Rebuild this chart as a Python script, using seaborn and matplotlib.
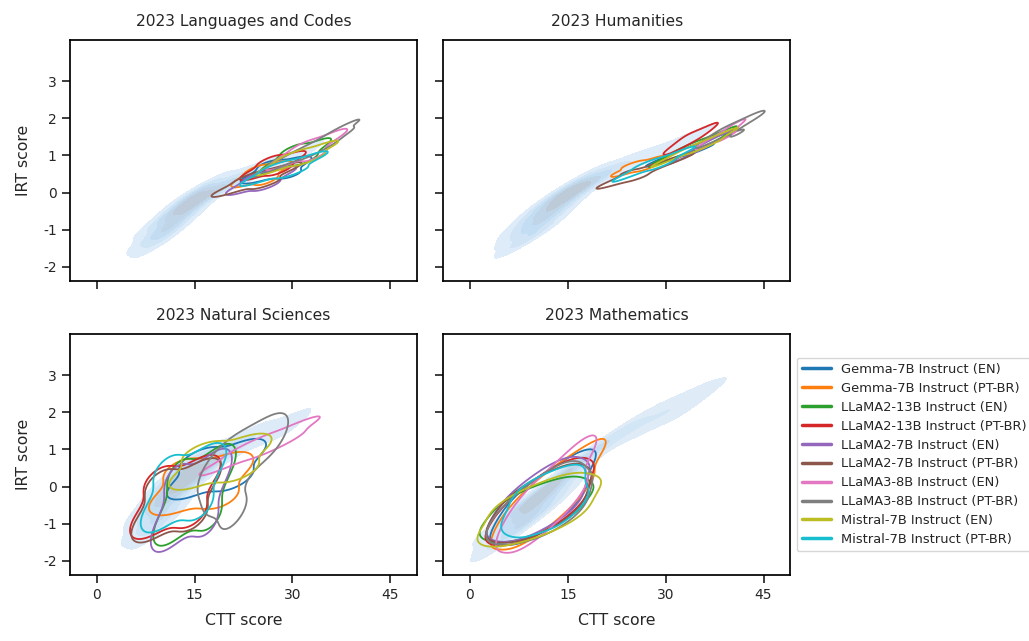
import matplotlib
matplotlib.use("Agg")
import matplotlib.pyplot as plt
from matplotlib.colors import LinearSegmentedColormap
from matplotlib.lines import Line2D
import pandas as pd
import seaborn as sns

MODELS = [
    "Gemma-7B Instruct (EN)",
    "Gemma-7B Instruct (PT-BR)",
    "LLaMA2-13B Instruct (EN)",
    "LLaMA2-13B Instruct (PT-BR)",
    "LLaMA2-7B Instruct (EN)",
    "LLaMA2-7B Instruct (PT-BR)",
    "LLaMA3-8B Instruct (EN)",
    "LLaMA3-8B Instruct (PT-BR)",
    "Mistral-7B Instruct (EN)",
    "Mistral-7B Instruct (PT-BR)",
]
TITLES = ["2023 Languages and Codes", "2023 Humanities",
          "2023 Natural Sciences", "2023 Mathematics"]
X_TICKS = [0, 15, 30, 45]
Y_TICKS = [-2, -1, 0, 1, 2, 3]

# ---- Languages and Codes -------------------------------------------------
LC_HUMAN_CTT = [8.5, 9, 9.5, 10, 10.5, 11, 11.5, 12, 12.5, 13, 13.5, 14, 14,
                15, 15, 15, 16, 16, 17, 17, 18, 19, 20, 21.5, 23, 25, 28, 32,
                9.25, 10.25, 11.25, 12.25, 13.25, 14.5, 16]
LC_HUMAN_IRT = [-1.25, -1.4, -0.85, -1.2, -0.7, -1.05, -0.55, -0.9, -0.4,
                -0.7, -0.25, -0.55, -0.1, -0.35, -0.05, -0.2, -0.25, 0.05,
                -0.1, 0.15, 0.1, 0.15, 0.25, 0.35, 0.45, 0.6, 0.8, 1.1,
                -1.1, -0.95, -0.8, -0.65, -0.45, -0.25, -0.1]
LC_CTT = {
    MODELS[0]: [24, 26, 27.5, 29, 31, 26.5, 29.5],
    MODELS[1]: [22.5, 24, 25, 26.5, 28, 24.5, 26],
    MODELS[2]: [27, 29, 30.5, 32, 34, 30, 32],
    MODELS[3]: [24, 25.5, 27, 28.5, 30, 26.5, 28],
    MODELS[4]: [22, 23.5, 25, 26.5, 28.5, 24.5, 26],
    MODELS[5]: [20, 22.5, 24.5, 26.5, 29, 23.5, 26],
    MODELS[6]: [28, 30, 32, 34, 36.5, 31.5, 33.5],
    MODELS[7]: [27, 29.5, 32, 34.5, 36, 37.5, 31, 34],
    MODELS[8]: [27, 29, 30.5, 32.5, 34.5, 30, 32.5],
    MODELS[9]: [24.5, 26.5, 28.5, 30.5, 33, 27.5, 30],
}
LC_IRT = {
    MODELS[0]: [0.38, 0.5, 0.6, 0.7, 0.85, 0.75, 0.5],
    MODELS[1]: [0.3, 0.4, 0.5, 0.6, 0.7, 0.6, 0.35],
    MODELS[2]: [0.7, 0.85, 1.0, 1.1, 1.3, 1.15, 0.9],
    MODELS[3]: [0.5, 0.6, 0.7, 0.85, 0.95, 0.85, 0.62],
    MODELS[4]: [0.1, 0.2, 0.3, 0.4, 0.55, 0.42, 0.2],
    MODELS[5]: [0.05, 0.2, 0.35, 0.5, 0.65, 0.42, 0.25],
    MODELS[6]: [0.8, 0.95, 1.1, 1.3, 1.55, 1.25, 1.0],
    MODELS[7]: [0.7, 0.9, 1.1, 1.3, 1.45, 1.72, 1.1, 1.15],
    MODELS[8]: [0.65, 0.8, 0.92, 1.05, 1.22, 1.0, 0.9],
    MODELS[9]: [0.35, 0.5, 0.62, 0.75, 0.95, 0.7, 0.55],
}

# ---- Humanities ----------------------------------------------------------
HU_HUMAN_CTT = [8, 8.5, 9, 9.5, 10, 10.5, 11, 11.5, 12, 12.5, 13, 13.5, 14,
                14.5, 15, 15.5, 16, 16.5, 17, 17.5, 18, 19, 20, 22, 24, 27,
                31, 35, 8.25, 9.25, 10.25, 11.25, 12.25, 13.25, 14.25, 15.25,
                16.25]
HU_HUMAN_IRT = [-1.3, -0.85, -1.2, -0.7, -1.1, -0.5, -0.9, -0.35, -0.7,
                -0.2, -0.55, -0.05, -0.4, 0.05, -0.2, 0.15, -0.05, 0.25, 0.05,
                0.3, 0.2, 0.35, 0.45, 0.6, 0.75, 0.95, 1.25, 1.55, -1.05,
                -0.95, -0.8, -0.6, -0.45, -0.3, -0.15, 0.0, 0.1]
HU_CTT = {
    MODELS[0]: [29.5, 31.5, 33.5, 35.5, 37.5, 33, 35],
    MODELS[1]: [23.5, 24.5, 25.5, 26.5, 27.5, 28.5, 25, 27],
    MODELS[2]: [30, 32, 34, 36, 38.5, 33.5, 36],
    MODELS[3]: [30, 32, 34, 36, 38.5, 33, 36.5],
    MODELS[4]: [33, 34.5, 36, 37.5, 38.5, 35.5, 36.5],
    MODELS[5]: [21.5, 23.5, 25.5, 27.5, 30, 32.5, 26, 24],
    MODELS[6]: [36.5, 38, 39.5, 40.5, 38.5, 37, 39.5],
    MODELS[7]: [36, 38, 40, 42, 43.5, 39, 41],
    MODELS[8]: [30.5, 32.5, 34.5, 36.5, 38.5, 34, 36],
    MODELS[9]: [24, 26, 28, 30, 32.5, 27, 29.5],
}
HU_IRT = {
    MODELS[0]: [0.88, 1.0, 1.12, 1.28, 1.45, 1.15, 1.15],
    MODELS[1]: [0.55, 0.6, 0.68, 0.75, 0.82, 0.88, 0.75, 0.68],
    MODELS[2]: [0.9, 1.05, 1.2, 1.35, 1.6, 1.25, 1.3],
    MODELS[3]: [1.05, 1.25, 1.45, 1.65, 1.95, 1.55, 1.4],
    MODELS[4]: [1.0, 1.12, 1.25, 1.38, 1.5, 1.2, 1.35],
    MODELS[5]: [0.25, 0.35, 0.5, 0.65, 0.8, 0.95, 0.4, 0.55],
    MODELS[6]: [1.35, 1.5, 1.65, 1.8, 1.55, 1.4, 1.55],
    MODELS[7]: [1.35, 1.5, 1.7, 1.9, 2.05, 1.7, 1.6],
    MODELS[8]: [0.9, 1.05, 1.2, 1.35, 1.55, 1.22, 1.25],
    MODELS[9]: [0.45, 0.6, 0.75, 0.9, 1.1, 0.78, 0.75],
}

# ---- Natural Sciences ----------------------------------------------------
NS_HUMAN_CTT = [7.5, 8, 8.5, 9, 9.5, 10, 10.5, 11, 11.5, 12, 12.5, 13, 13.5,
                14, 14.5, 15, 15.5, 16, 16.5, 17, 18, 19, 20.5, 22, 24, 27, 30,
                8, 9, 10, 11, 12, 13, 14, 15]
NS_HUMAN_IRT = [-1.1, -0.6, -1.25, -0.4, -0.95, -0.15, -0.8, 0.1, -0.5, 0.3,
                -0.2, 0.45, 0.0, 0.55, 0.15, 0.6, 0.25, 0.7, 0.4, 0.6, 0.75,
                0.85, 1.0, 1.15, 1.3, 1.5, 1.7, -0.9, -0.65, -0.45, -0.2,
                0.05, 0.2, 0.3, 0.45]
NS_CTT = {
    MODELS[0]: [14.1, 16.2, 18.35, 20.5, 22.6, 15.9, 20.8],
    MODELS[1]: [11.2, 13.6, 16, 18.4, 20.8, 13.2, 18.8],
    MODELS[2]: [10.8, 12.9, 15, 17.1, 19.2, 12.6, 17.4],
    MODELS[3]: [7.7, 9.9, 12.05, 14.2, 16.4, 9.55, 14.55],
    MODELS[4]: [10.4, 12.4, 14.5, 16.6, 18.6, 12.1, 16.9],
    MODELS[5]: [7.9, 10.05, 12.2, 14.35, 16.5, 9.75, 14.65],
    MODELS[6]: [20.5, 22.5, 25, 27.5, 29.5, 24, 27],
    MODELS[7]: [18, 20, 22.5, 25, 27, 19, 21, 20.5],
    MODELS[8]: [14.6, 16.8, 18.95, 21.1, 23.3, 16.4, 21.5],
    MODELS[9]: [9.2, 11.2, 13.3, 15.4, 17.4, 10.9, 15.7],
}
NS_IRT = {
    MODELS[0]: [0.01, 0.24, 0.47, 0.7, 0.93, 0.72, 0.22],
    MODELS[1]: [-0.42, -0.17, 0.08, 0.33, 0.58, 0.44, -0.28],
    MODELS[2]: [-1.12, -0.67, -0.22, 0.23, 0.68, 0.36, -0.8],
    MODELS[3]: [-0.98, -0.63, -0.28, 0.07, 0.42, 0.17, -0.73],
    MODELS[4]: [-1.28, -0.83, -0.37, 0.09, 0.54, 0.22, -0.96],
    MODELS[5]: [-1.07, -0.72, -0.37, -0.02, 0.33, 0.08, -0.82],
    MODELS[6]: [0.7, 0.85, 1.05, 1.25, 1.5, 1.12, 1.1],
    MODELS[7]: [0.4, 0.7, 0.95, 1.2, 1.35, -0.2, -0.7, 0.3],
    MODELS[8]: [0.25, 0.45, 0.67, 0.89, 1.09, 0.9, 0.44],
    MODELS[9]: [-0.78, -0.4, -0.03, 0.34, 0.72, 0.45, -0.51],
}

# ---- Mathematics ---------------------------------------------------------
MA_HUMAN_CTT = [6.5, 6.5, 7, 7.5, 8, 8.5, 9, 9.5, 10, 10.5, 11, 11.5, 12,
                12.5, 13, 14, 15, 16, 18, 20, 22.5, 25, 27.5, 30, 32.5, 35,
                7, 7.5, 8.5, 9.5, 10.5, 11.5, 12.5]
MA_HUMAN_IRT = [-1.15, -0.8, -1.2, -0.6, -1.05, -0.45, -0.95, -0.35, -0.75,
                -0.2, -0.55, -0.05, -0.35, 0.1, 0.0, 0.25, 0.4, 0.55, 0.85,
                1.1, 1.35, 1.6, 1.8, 2.0, 2.2, 2.35, -1.0, -0.85, -0.7,
                -0.55, -0.4, -0.25, -0.1]
MA_CTT = {
    MODELS[0]: [6, 8, 11, 14.5, 16, 15, 12, 9],
    MODELS[1]: [6.5, 8, 11, 14, 18, 16, 12.5, 9],
    MODELS[2]: [5, 7, 10, 13.5, 15.5, 13.5, 10, 7],
    MODELS[3]: [5.5, 7.5, 10.5, 14, 16, 15, 11.5, 8],
    MODELS[4]: [5.5, 7.5, 10.5, 13.5, 15.5, 14.5, 11, 8],
    MODELS[5]: [5.5, 7.5, 10.5, 14, 15.5, 14.5, 11, 8],
    MODELS[6]: [7, 8.5, 11, 14.5, 16.5, 15.5, 12, 9],
    MODELS[7]: [5.5, 7.5, 11, 14, 16, 15, 11.5, 8],
    MODELS[8]: [4.5, 6.5, 10, 14, 17, 15, 11, 7],
    MODELS[9]: [7.5, 9, 12, 15, 15.5, 13, 9.5, 11.5],
}
MA_IRT = {
    MODELS[0]: [-1.05, -0.45, -0.05, 0.3, 0.45, -0.3, -0.75, -1.05],
    MODELS[1]: [-1.1, -0.55, -0.1, 0.3, 0.8, -0.1, -0.7, -1.1],
    MODELS[2]: [-1.0, -0.55, -0.3, -0.1, -0.25, -0.7, -1.0, -1.1],
    MODELS[3]: [-1.05, -0.55, -0.1, 0.3, 0.2, -0.45, -0.85, -1.1],
    MODELS[4]: [-0.95, -0.4, 0.0, 0.35, 0.2, -0.45, -0.8, -1.0],
    MODELS[5]: [-1.0, -0.45, -0.1, 0.2, 0.0, -0.55, -0.9, -1.05],
    MODELS[6]: [-1.1, -0.55, -0.1, 0.4, 0.8, -0.2, -0.8, -1.15],
    MODELS[7]: [-1.05, -0.55, -0.1, 0.3, 0.0, -0.6, -0.95, -1.1],
    MODELS[8]: [-1.15, -0.55, -0.3, 0.0, -0.1, -0.7, -1.0, -1.2],
    MODELS[9]: [-0.85, -0.25, 0.0, 0.2, -0.35, -0.75, -0.95, -0.45],
}

PANELS = [
    (LC_HUMAN_CTT, LC_HUMAN_IRT, LC_CTT, LC_IRT),
    (HU_HUMAN_CTT, HU_HUMAN_IRT, HU_CTT, HU_IRT),
    (NS_HUMAN_CTT, NS_HUMAN_IRT, NS_CTT, NS_IRT),
    (MA_HUMAN_CTT, MA_HUMAN_IRT, MA_CTT, MA_IRT),
]

sns.set_theme(style="ticks")
plt.rcParams.update({
    "font.family": ["DejaVu Sans"],
    "axes.unicode_minus": False,
    "axes.linewidth": 1.25,
    "axes.edgecolor": "black",
    "xtick.major.size": 6,
    "ytick.major.size": 6,
    "xtick.major.width": 1.25,
    "ytick.major.width": 1.25,
    "xtick.labelsize": 10,
    "ytick.labelsize": 10,
    "axes.labelsize": 11.3,
    "axes.titlesize": 11.2,
})

palette = sns.color_palette("tab10", len(MODELS))
human_cmap = LinearSegmentedColormap.from_list(
    "human", ["#e5eff9", "#d3e6f6", "#c3ddf2", "#bfd3e6", "#bcc6d1"])

fig, axes = plt.subplots(2, 2, figsize=(10.29, 6.41), dpi=100,
                         sharex=True, sharey=True)
fig.subplots_adjust(left=0.068, right=0.768, top=0.9376, bottom=0.103,
                    wspace=0.075, hspace=0.22)

for ax, title, (h_ctt, h_irt, m_ctt, m_irt) in zip(axes.flat, TITLES, PANELS):
    # test-taker density as the filled backdrop
    sns.kdeplot(x=h_ctt, y=h_irt, fill=True, cmap=human_cmap, levels=6,
                thresh=0.05, bw_adjust=0.8, ax=ax)
    rows = []
    for model in MODELS:
        for c, i in zip(m_ctt[model], m_irt[model]):
            rows.append({"CTT": c, "IRT": i, "Model": model})
    df = pd.DataFrame(rows)
    # one outline per model
    sns.kdeplot(data=df, x="CTT", y="IRT", hue="Model", hue_order=MODELS,
                palette=palette, levels=[0.15], linewidths=1.3,
                legend=False, ax=ax)
    ax.set_title(title, pad=10)
    ax.set_xlim(-4.1, 49.1)
    ax.set_ylim(-2.38, 4.11)
    ax.set_xticks(X_TICKS)
    ax.set_yticks(Y_TICKS)
    ax.set_xlabel("")
    ax.set_ylabel("")
    for side in ("top", "right", "left", "bottom"):
        ax.spines[side].set_visible(True)

for ax in axes[:, 0]:
    ax.set_ylabel("IRT score", labelpad=9)
for ax in axes[1, :]:
    ax.set_xlabel("CTT score", labelpad=8)

handles = [Line2D([0], [0], color=palette[k], lw=2.5) for k in range(len(MODELS))]
axes[1, 1].legend(handles, MODELS, loc="center left", bbox_to_anchor=(1.0, 0.5),
                  fontsize=9.4, frameon=True, handlelength=2.2,
                  labelspacing=0.45)

fig.savefig("out.png", dpi=100)
